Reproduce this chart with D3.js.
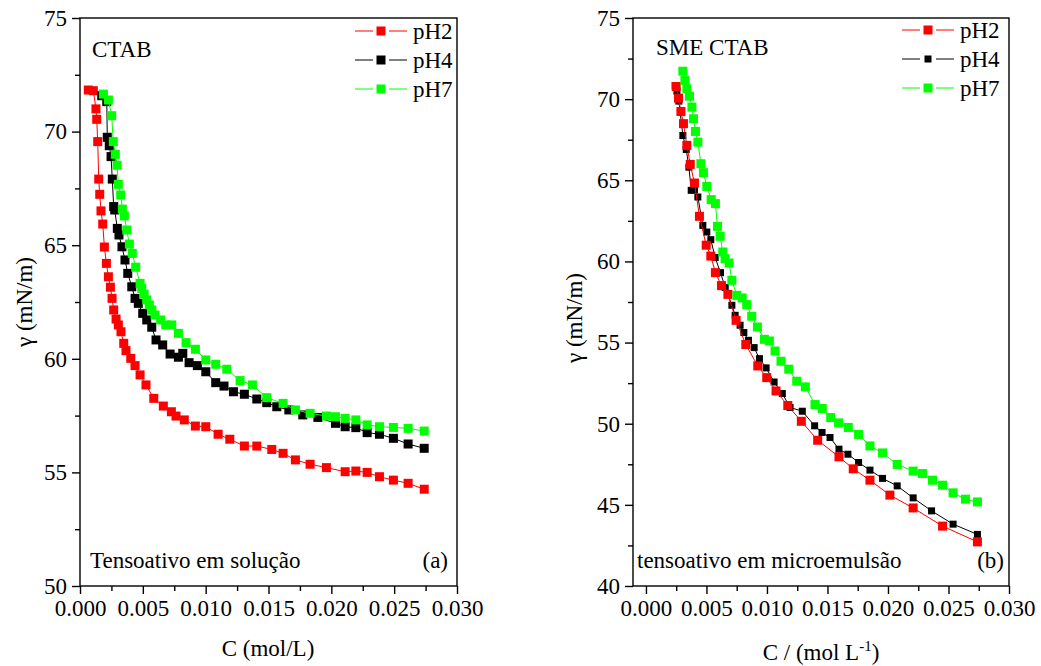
<!DOCTYPE html>
<html>
<head>
<meta charset="utf-8">
<script src="https://cdn.jsdelivr.net/npm/d3@7"></script>
<style>
  body { margin: 0; background: #fff; }
  svg { display: block; }
  text { font-family: "Liberation Serif", "Times New Roman", serif; fill: #000; }
  .axis text { font-size: 23px; }
  .axis line { stroke: #000; stroke-width: 1.4; }
  .axis path { display: none; }
</style>
</head>
<body>
<svg id="chart" width="1041" height="666"></svg>
<script>
// C (mol/L), gamma (mN/m) pairs
const solPH2 = [[0.00066,71.83],[0.00106,71.80],[0.00127,71.0],[0.00133,70.54],[0.00141,69.56],[0.00149,67.91],[0.00157,67.24],[0.00167,66.51],[0.00181,65.93],[0.00194,64.92],[0.0021,64.2],[0.00226,63.61],[0.00242,63.15],[0.00255,62.66],[0.00268,62.15],[0.00287,61.75],[0.00305,61.49],[0.00326,61.19],[0.00348,60.68],[0.00366,60.36],[0.00404,60.02],[0.00438,59.70],[0.00478,59.29],[0.00525,58.85],[0.00587,58.26],[0.00663,57.92],[0.00727,57.67],[0.00764,57.48],[0.0083,57.31],[0.00918,57.04],[0.01001,57.01],[0.01099,56.68],[0.01192,56.46],[0.01308,56.16],[0.01407,56.16],[0.01526,56.01],[0.01616,55.84],[0.01714,55.55],[0.01831,55.36],[0.01961,55.21],[0.0211,55.03],[0.02195,55.06],[0.02285,55.0],[0.02383,54.81],[0.02494,54.66],[0.02611,54.52],[0.02739,54.26]];
const solPH4 = [[0.00173,71.58],[0.00213,71.32],[0.00217,69.75],[0.00233,69.38],[0.00247,68.90],[0.00257,67.91],[0.00268,66.70],[0.00276,66.55],[0.00297,65.74],[0.0031,65.45],[0.00334,64.93],[0.00358,64.35],[0.0038,63.76],[0.00412,63.17],[0.00438,62.66],[0.00464,62.44],[0.00499,62.0],[0.00531,61.71],[0.00571,61.39],[0.00605,60.83],[0.00658,60.61],[0.00717,60.21],[0.00783,60.07],[0.00818,60.24],[0.00868,59.83],[0.00934,59.70],[0.01001,59.43],[0.0108,58.95],[0.01146,58.80],[0.01221,58.55],[0.01308,58.44],[0.01407,58.23],[0.01486,58.07],[0.01566,57.89],[0.01662,57.75],[0.01773,57.53],[0.01893,57.42],[0.02033,57.16],[0.0211,57.01],[0.02195,56.97],[0.02285,56.75],[0.02383,56.68],[0.02494,56.50],[0.02611,56.25],[0.02739,56.06]];
const solPH7 = [[0.00186,71.65],[0.00226,71.39],[0.00252,70.70],[0.00265,69.56],[0.00281,69.0],[0.00295,68.52],[0.00305,67.68],[0.00324,67.21],[0.00337,66.59],[0.00353,66.29],[0.00372,65.67],[0.00393,65.05],[0.00416,64.64],[0.00443,64.03],[0.00478,63.32],[0.00491,63.10],[0.0051,62.85],[0.00531,62.59],[0.00552,62.37],[0.00571,62.15],[0.00597,61.93],[0.00642,61.71],[0.00682,61.49],[0.0073,61.49],[0.00783,61.12],[0.00844,60.71],[0.00918,60.42],[0.01001,59.95],[0.0108,59.76],[0.01168,59.54],[0.01274,59.04],[0.01372,58.85],[0.01486,58.29],[0.01616,58.04],[0.01714,57.75],[0.01831,57.60],[0.01961,57.48],[0.02033,57.45],[0.0211,57.38],[0.02195,57.31],[0.02285,57.09],[0.02383,57.01],[0.02494,56.98],[0.02611,56.94],[0.02739,56.82]];

const smePH2 = [[0.0025,70.78],[0.00269,70.06],[0.00289,69.24],[0.0031,68.49],[0.00338,67.15],[0.00366,65.98],[0.00401,64.83],[0.00442,62.78],[0.00498,61.0],[0.00536,60.33],[0.00574,59.31],[0.00624,58.51],[0.00677,57.97],[0.00745,56.37],[0.00825,54.88],[0.00924,53.56],[0.00998,52.84],[0.01075,52.02],[0.01172,51.12],[0.01284,50.15],[0.01419,48.98],[0.01595,47.96],[0.01713,47.22],[0.01851,46.52],[0.02016,45.60],[0.02208,44.81],[0.02451,43.69],[0.02739,42.72]];
const smePH4 = [[0.00242,70.84],[0.00256,70.49],[0.00272,69.88],[0.00305,67.76],[0.00333,66.90],[0.00355,65.81],[0.00374,64.38],[0.00401,64.42],[0.00429,63.97],[0.0047,62.22],[0.00503,61.81],[0.00536,61.34],[0.00572,60.24],[0.00616,59.31],[0.00655,58.39],[0.0071,57.30],[0.00737,56.68],[0.00778,56.07],[0.00809,55.62],[0.00847,55.14],[0.00894,54.69],[0.00938,54.01],[0.00993,53.44],[0.01059,52.57],[0.01127,51.86],[0.01191,51.0],[0.01292,50.77],[0.01394,49.87],[0.01455,49.46],[0.01521,49.15],[0.01595,48.43],[0.01669,48.12],[0.01757,47.61],[0.01851,47.14],[0.01955,46.63],[0.02076,46.17],[0.02208,45.43],[0.0236,44.63],[0.02538,43.81],[0.02739,43.18]];
const smePH7 = [[0.00305,71.72],[0.00322,71.15],[0.00338,70.64],[0.0036,70.18],[0.0038,69.51],[0.00393,68.79],[0.00409,68.01],[0.00429,67.35],[0.00454,66.02],[0.00475,65.47],[0.00503,64.62],[0.00539,63.81],[0.00574,63.56],[0.00591,62.16],[0.00613,61.55],[0.00635,60.58],[0.00654,60.17],[0.00687,59.90],[0.0071,58.84],[0.00751,57.91],[0.00795,57.75],[0.00833,57.34],[0.00874,56.62],[0.00921,55.96],[0.00979,55.20],[0.0102,55.1],[0.01067,54.48],[0.01116,53.85],[0.0118,53.36],[0.01246,52.62],[0.01317,52.27],[0.01397,51.18],[0.01457,50.94],[0.01527,50.38],[0.01592,50.05],[0.01672,49.77],[0.01757,49.34],[0.01851,48.63],[0.01955,48.20],[0.02076,47.49],[0.02208,47.08],[0.02285,46.93],[0.02368,46.52],[0.02451,46.21],[0.02538,45.74],[0.0264,45.35],[0.02739,45.18]];

const seriesNames = ['pH2', 'pH4', 'pH7'];
const seriesColors = ['#ff0000', '#000000', '#00ff00'];
const xTicks = [0, 0.005, 0.010, 0.015, 0.020, 0.025, 0.030];

const svg = d3.select('#chart');

function panel(cfg) {
  const { x0, x1, xMin, y0, y1, yDomain, yStep, data, sizes, order } = cfg;
  const x = d3.scaleLinear().domain([xMin, 0.03]).range([x0, x1]);
  const y = d3.scaleLinear().domain(yDomain).range([y1, y0]);
  const g = svg.append('g');

  // minor ticks
  const xMinor = d3.range(0.0025, 0.03, 0.005);
  const yMinor = d3.range(yDomain[0] + yStep / 2, yDomain[1], yStep);
  g.append('g').attr('class', 'axis').attr('transform', `translate(0,${y1})`)
    .call(d3.axisBottom(x).tickValues(xMinor).tickSize(5).tickFormat(''));
  g.append('g').attr('class', 'axis').attr('transform', `translate(${x0},0)`)
    .call(d3.axisLeft(y).tickValues(yMinor).tickSize(5).tickFormat(''));

  g.append('g').attr('class', 'axis').attr('transform', `translate(0,${y1})`)
    .call(d3.axisBottom(x).tickValues(xTicks).tickSize(8).tickPadding(6).tickFormat(d3.format('.3f')));
  g.append('g').attr('class', 'axis').attr('transform', `translate(${x0},0)`)
    .call(d3.axisLeft(y).tickValues(d3.range(yDomain[0], yDomain[1] + 0.1, yStep)).tickSize(8).tickPadding(5).tickFormat(d3.format('d')));

  const line = d3.line().x(d => x(d[0])).y(d => y(d[1]));
  order.forEach(i => {
    const s = g.append('g');
    s.append('path').attr('d', line(data[i])).attr('fill', 'none')
      .attr('stroke', seriesColors[i]).attr('stroke-width', 1);
    s.selectAll('rect').data(data[i]).enter().append('rect')
      .attr('x', d => x(d[0]) - sizes[i] / 2).attr('y', d => y(d[1]) - sizes[i] / 2)
      .attr('width', sizes[i]).attr('height', sizes[i])
      .attr('fill', seriesColors[i]);
  });

  g.append('rect').attr('x', x0).attr('y', y0).attr('width', x1 - x0).attr('height', y1 - y0)
    .attr('fill', 'none').attr('stroke', '#000').attr('stroke-width', 1.4);

  // legend
  const lg = g.append('g').attr('transform', `translate(${cfg.legX},${cfg.legY})`);
  seriesNames.forEach((n, i) => {
    const row = lg.append('g').attr('transform', `translate(0,${i * 29})`);
    row.append('line').attr('x1', 0).attr('x2', 18).attr('stroke', seriesColors[i]).attr('stroke-width', 1);
    row.append('line').attr('x1', 34).attr('x2', 52).attr('stroke', seriesColors[i]).attr('stroke-width', 1);
    row.append('rect').attr('x', 26 - sizes[i] / 2).attr('y', -sizes[i] / 2)
      .attr('width', sizes[i]).attr('height', sizes[i]).attr('fill', seriesColors[i]);
    row.append('text').attr('x', 58).attr('y', 8).attr('font-size', 23).text(n);
  });
  return { x, y, g };
}

const left = panel({
  x0: 80, x1: 457, xMin: 0, y0: 18, y1: 586, yDomain: [50, 75], yStep: 5,
  data: [solPH2, solPH4, solPH7], sizes: [9, 9, 9], order: [0, 1, 2],
  legX: 355, legY: 31
});
const right = panel({
  x0: 633, x1: 1009, xMin: -0.00107, y0: 18, y1: 586, yDomain: [40, 75], yStep: 5,
  data: [smePH2, smePH4, smePH7], sizes: [9, 7, 9], order: [1, 0, 2],
  legX: 902, legY: 30
});

const txt = (x, y, s, anchor) => svg.append('text').attr('x', x).attr('y', y)
  .attr('font-size', 23).attr('text-anchor', anchor || 'start').text(s);

txt(92, 57, 'CTAB');
txt(90, 568, 'Tensoativo em solução');
txt(448, 568, '(a)', 'end');
txt(656, 55, 'SME CTAB');
txt(637, 568, 'tensoativo em microemulsão');
txt(1004, 568, '(b)', 'end');

txt(268, 656, 'C (mol/L)', 'middle');
const xl = svg.append('text').attr('x', 821).attr('y', 660).attr('font-size', 23).attr('text-anchor', 'middle');
xl.append('tspan').text('C / (mol L');
xl.append('tspan').attr('font-size', 15).attr('dy', -9).text('-1');
xl.append('tspan').attr('dy', 9).text(')');

svg.append('text').attr('transform', 'translate(32,302) rotate(-90)')
  .attr('font-size', 23).attr('text-anchor', 'middle').text('γ (mN/m)');
svg.append('text').attr('transform', 'translate(582,318) rotate(-90)')
  .attr('font-size', 23).attr('text-anchor', 'middle').text('γ (mN/m)');
</script>
</body>
</html>
